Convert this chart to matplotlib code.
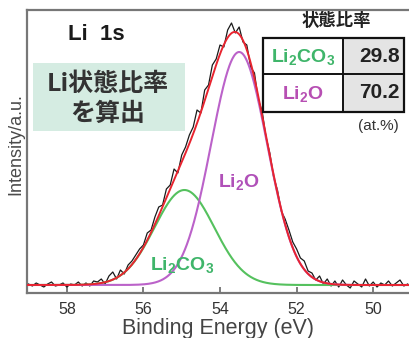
import numpy as np
import matplotlib
matplotlib.use("Agg")
import matplotlib.pyplot as plt
from matplotlib.patches import Rectangle

plt.rcParams['font.family'] = ['Liberation Sans', 'Noto Sans CJK JP', 'DejaVu Sans']
plt.rcParams['mathtext.fontset'] = 'custom'
plt.rcParams['mathtext.rm'] = 'Liberation Sans:bold'
plt.rcParams['mathtext.it'] = 'Liberation Sans:bold'
plt.rcParams['mathtext.bf'] = 'Liberation Sans:bold'

# ---- data ----
energy_start = 59.0
energy_step = 0.1
raw_intensity = [
    1, -1, 2, 0, -2, 1, 3, -1, 0, 2, -2, 1, 0, 3, -1,
    2, -1, 4, 3, 6, 1, 9, 13, 6, 15, 11, 20, 24, 30, 36, 40,
    52, 55, 68, 78, 80, 96, 100, 116, 112, 130,
    138, 150, 158, 175, 172, 195, 200, 220, 226, 240,
    238, 255, 262, 252, 258, 243, 240, 218, 212, 185,
    174, 148, 132, 108, 95, 74, 66, 55, 43, 36,
    27, 24, 14, 12, 5, 9, 1, 6, -1, 4,
    -2, 5, 0, -3, 4, 1, -2, 6, -1, 3, -2, 2, 0, 4, -1, 2, 5, -1, 1,
]
components = ["Li2O", "Li2CO3"]
comp_center = [53.5, 54.93]
comp_amp = [233, 95]
comp_sigma = [0.73, 0.78]
ratio_labels = ["Li$_2$CO$_3$", "Li$_2$O"]
ratio_values = ["29.8", "70.2"]
xticks = [58, 56, 54, 52, 50]

# ---- figure ----
W, H = 409, 338
fig = plt.figure(figsize=(W / 100, H / 100), dpi=100)

def fx(x):
    return x / W

def fy(y):
    return 1 - y / H

ax = fig.add_axes([fx(27), fy(293), 1 - fx(27), fy(10) - fy(293)])

energies = energy_start - energy_step * np.arange(len(raw_intensity))
fine = np.linspace(59.1, 49.0, 800)

def gauss(e, c, a, s):
    return a * np.exp(-(e - c) ** 2 / (2 * s ** 2))

g_li2o = gauss(fine, comp_center[0], comp_amp[0], comp_sigma[0])
g_li2co3 = gauss(fine, comp_center[1], comp_amp[1], comp_sigma[1])
total = g_li2o + g_li2co3

green = '#55c15e'
purple = '#bb62c9'
red = '#e8242f'

ax.plot(energies, raw_intensity, color='#1a1a1a', lw=0.9, zorder=2)
ax.plot(fine, g_li2co3, color=green, lw=1.5, zorder=3)
ax.plot(fine, g_li2o, color=purple, lw=1.5, zorder=3)
ax.plot(fine, total, color=red, lw=1.4, zorder=4)

ax.set_xlim(59.04, 49.065)
ax.set_ylim(-8, 275)
ax.set_xticks(xticks)
ax.set_xticklabels([str(t) for t in xticks])
ax.set_yticks([])
ax.tick_params(axis='x', direction='in', length=4, width=1.2, color='#666666',
               labelsize=11.5, labelcolor='#333333', pad=6.5)
for side in ['left', 'bottom', 'top']:
    ax.spines[side].set_color('#777777')
    ax.spines[side].set_linewidth(1.6)
ax.spines['right'].set_visible(False)

# axis labels
fig.text(fx(218), fy(334), 'Binding Energy (eV)', ha='center', va='baseline',
         fontsize=15.5, color='#444444')
fig.text(fx(16), fy(144), 'Intensity/a.u.', ha='center', va='center',
         rotation=90, fontsize=13, color='#4a4a4a')

# title
fig.text(fx(68), fy(34), 'Li  1s', ha='left', va='center', fontsize=16,
         fontweight='bold', color='#1a1a1a')

# mint box
fig.patches.append(Rectangle((fx(33), fy(131)), fx(185) - fx(33), fy(63) - fy(131),
                             transform=fig.transFigure, facecolor='#d5ece2',
                             edgecolor='none', zorder=5))
fig.text(fx(108), fy(84), 'Li状態比率', ha='center', va='center', fontsize=18,
         fontweight='bold', color='#333333', family=['Noto Sans CJK JP'], zorder=6)
fig.text(fx(108), fy(114), 'を算出', ha='center', va='center', fontsize=18,
         fontweight='bold', color='#333333', family=['Noto Sans CJK JP'], zorder=6)

# table
fig.text(fx(336), fy(21), '状態比率', ha='center', va='center', fontsize=12.5,
         fontweight='bold', color='#222222', family=['Noto Sans CJK JP'])
tl, tm, tr = 263, 343, 404
ttop, tmid, tbot = 38, 74, 112
fig.patches.append(Rectangle((fx(tl), fy(tbot)), fx(tm) - fx(tl), fy(ttop) - fy(tbot),
                             transform=fig.transFigure, facecolor='white',
                             edgecolor='none', zorder=5))
fig.patches.append(Rectangle((fx(tm), fy(tbot)), fx(tr) - fx(tm), fy(ttop) - fy(tbot),
                             transform=fig.transFigure, facecolor='#e4e4e4',
                             edgecolor='none', zorder=5))
fig.patches.append(Rectangle((fx(tl), fy(tbot)), fx(tr) - fx(tl), fy(ttop) - fy(tbot),
                             transform=fig.transFigure, facecolor='none',
                             edgecolor='#111111', lw=1.6, zorder=7))
fig.lines.append(plt.Line2D([fx(tl), fx(tr)], [fy(tmid), fy(tmid)],
                            transform=fig.transFigure, color='#111111', lw=1.4, zorder=7))
fig.lines.append(plt.Line2D([fx(tm), fx(tm)], [fy(ttop), fy(tbot)],
                            transform=fig.transFigure, color='#111111', lw=1.4, zorder=7))

label_colors = ['#3fb56a', '#b74fb3']
row_y = [57, 94]
for lab, val, col, ry in zip(ratio_labels, ratio_values, label_colors, row_y):
    fig.text(fx(303), fy(ry), lab, ha='center', va='center', fontsize=14,
             fontweight='bold', color=col, zorder=8)
    fig.text(fx(400), fy(ry - 1), val, ha='right', va='center', fontsize=15,
             fontweight='bold', color='#222222', zorder=8)
fig.text(fx(378), fy(126), '(at.%)', ha='center', va='center', fontsize=11,
         color='#333333')

# curve annotations
fig.text(fx(239), fy(182), 'Li$_2$O', ha='center', va='center', fontsize=14,
         fontweight='bold', color='#b050b8', zorder=8)
fig.text(fx(182), fy(265), 'Li$_2$CO$_3$', ha='center', va='center', fontsize=14,
         fontweight='bold', color='#3fb56a', zorder=8)

fig.savefig('out.png', dpi=100)
